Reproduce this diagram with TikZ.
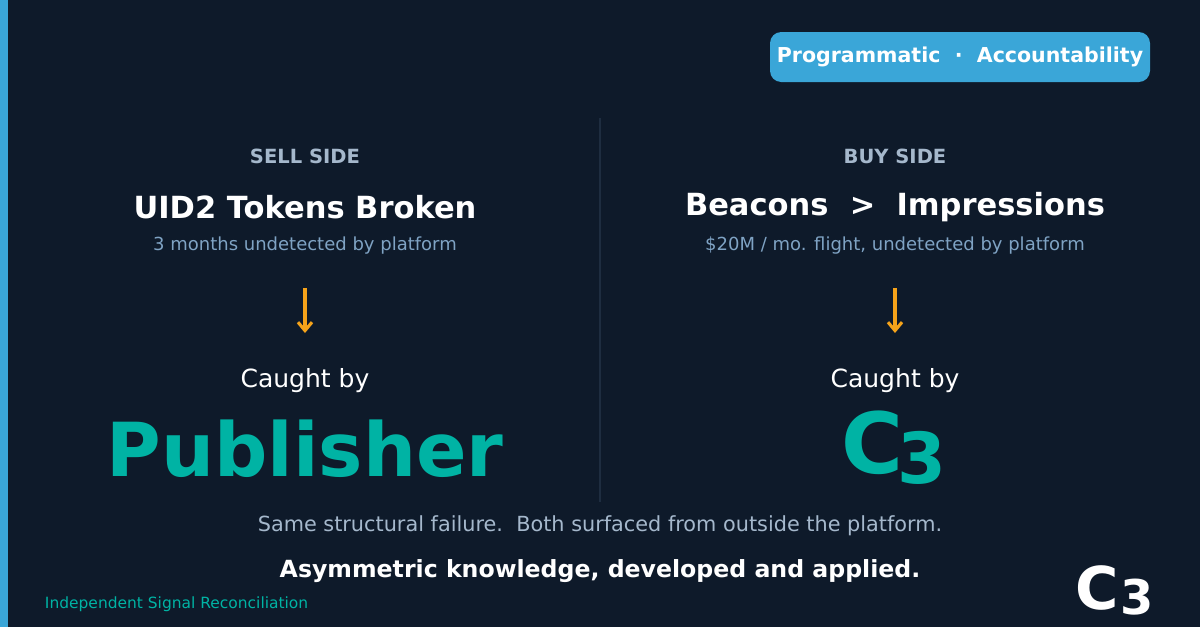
\documentclass[tikz,border=0pt]{standalone}
\usepackage{fontspec}
\setmainfont{DejaVu Sans}
\usetikzlibrary{arrows.meta}
\definecolor{bgnavy}{HTML}{0E1A2A}
\definecolor{barblue}{HTML}{3AA6D8}
\definecolor{tealc}{HTML}{00B3A4}
\definecolor{labelgray}{HTML}{A5B8CC}
\definecolor{subblue}{HTML}{7FA3C4}
\definecolor{arroworange}{HTML}{F5A31A}
\definecolor{divline}{HTML}{1E2D40}
\tikzset{
  sidelabel/.style={text=labelgray, font=\fontsize{13.9}{16}\selectfont\bfseries},
  headline/.style={text=white, font=\fontsize{21.7}{25}\selectfont\bfseries},
  subline/.style={text=subblue, font=\fontsize{12.8}{15}\selectfont},
  caught/.style={text=white, font=\fontsize{17.8}{21}\selectfont},
  downarrow/.style={-{Straight Barb[length=6pt,width=10pt]}, draw=arroworange, line width=2.2pt},
}
\begin{document}
\begin{tikzpicture}[x=0.025cm, y=-0.025cm]
	\fill[bgnavy] (0,0) rectangle (1200,627);
	\useasboundingbox (0,0) rectangle (1200,627);
	\fill[barblue] (0,0) rectangle (8,627);
	% badge
	\node [fill=barblue, rounded corners=8pt, minimum width=380*0.025cm, minimum height=50*0.025cm, inner sep=0pt, text=white, font=\fontsize{14.6}{17}\selectfont\bfseries] (badge) at (960,57) {Programmatic~~·~~Accountability};
	% divider
	\draw [divline, line width=1pt] (600,118) -- (600,502);
	% sell side
	\node [sidelabel] (selllabel) at (305,156) {SELL SIDE};
	\node [headline] (sellhead) at (305,207) {UID2 Tokens Broken};
	\node [subline] (sellsub) at (305,246) {3 months undetected by platform};
	\coordinate (sellfrom) at (305,288);
	\coordinate (sellto) at (305,333);
	\draw [downarrow] (sellfrom) -- (sellto);
	\node [caught] (sellcaught) at (305,381) {Caught by};
	\node [text=tealc, font=\fontsize{53}{58}\selectfont\bfseries] (publisher) at (305,449) {Publisher};
	% buy side
	\node [sidelabel] (buylabel) at (895,156) {BUY SIDE};
	\node [headline] (buyhead) at (895,207) {Beacons~~>~~Impressions};
	\node [subline] (buysub) at (895,246) {\$20M / mo. flight, undetected by platform};
	\coordinate (buyfrom) at (895,288);
	\coordinate (buyto) at (895,333);
	\draw [downarrow] (buyfrom) -- (buyto);
	\node [caught] (buycaught) at (895,381) {Caught by};
	\node [text=tealc, font=\fontsize{60}{64}\selectfont\bfseries, inner sep=0pt] (bigc) at (872,443) {C};
	\node [text=tealc, font=\fontsize{50}{56}\selectfont\bfseries, inner sep=0pt] (bigthree) at (922,458) {3};
	% footer
	\node [text=labelgray, font=\fontsize{14.8}{17}\selectfont] (sameline) at (600,526) {Same structural failure.~~Both surfaced from outside the platform.};
	\node [text=white, font=\fontsize{16.8}{20}\selectfont\bfseries] (asymline) at (600,571) {Asymmetric knowledge, developed and applied.};
	\node [text=tealc, font=\fontsize{11}{13}\selectfont, anchor=west] (isr) at (40,604) {Independent Signal Reconciliation};
	\node [text=white, font=\fontsize{42}{46}\selectfont\bfseries, inner sep=0pt] (smallc) at (1097,588) {C};
	\node [text=white, font=\fontsize{34}{38}\selectfont\bfseries, inner sep=0pt] (smallthree) at (1137,597) {3};
\end{tikzpicture}
\end{document}
